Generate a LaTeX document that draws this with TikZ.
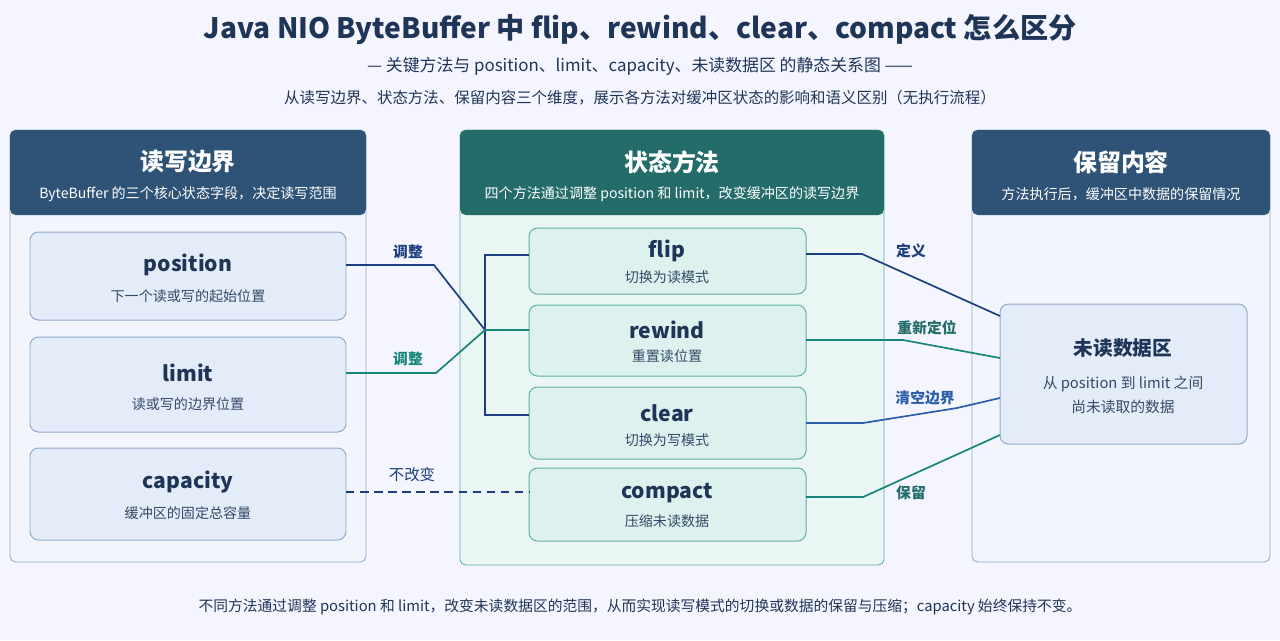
\documentclass[tikz,border=0pt]{standalone}
\usepackage{fontspec}
\setmainfont{Noto Sans CJK SC}
\usepackage{tikz}
\usetikzlibrary{positioning}
\definecolor{navy}{HTML}{1F3557}
\definecolor{headblue}{HTML}{2F5277}
\definecolor{headteal}{HTML}{236C6A}
\definecolor{linenavy}{HTML}{1D3F7F}
\definecolor{lineteal}{HTML}{17857A}
\definecolor{lineblue}{HTML}{2B5EAA}
\definecolor{bgblue}{HTML}{F2F6FC}
\definecolor{bgteal}{HTML}{E9F6F3}
\definecolor{boxblue}{HTML}{E3ECF8}
\definecolor{boxteal}{HTML}{DDF2EE}
\definecolor{edgeblue}{HTML}{8FA9CC}
\definecolor{edgeteal}{HTML}{5FAFA2}

\begin{document}
\begin{tikzpicture}[x=0.025cm, y=-0.025cm,
    panel/.style={draw=#1, line width=0.6pt, rounded corners=4pt},
    head/.style={fill=#1, rounded corners=4pt},
    item/.style={draw=#1, line width=0.7pt, rounded corners=6pt},
    fieldname/.style={font=\bfseries\fontsize{15}{18}\selectfont, text=navy},
    desc/.style={font=\fontsize{10}{12}\selectfont, text=navy!90},
    lbl/.style={font=\bfseries\fontsize{10.5}{12}\selectfont, text=#1},
    link/.style={line width=1.2pt, draw=#1},
]
    \fill[white!96!blue] (0,0) rectangle (1280,640);
    % Titles
    \node[font=\bfseries\fontsize{20}{24}\selectfont, text=navy] (title) at (640,30) {Java NIO ByteBuffer 中 flip、rewind、clear、compact 怎么区分};
    \node[font=\fontsize{12}{14}\selectfont, text=navy] (sub) at (640,66) {— 关键方法与 position、limit、capacity、未读数据区 的静态关系图 ——};
    \node[font=\fontsize{11}{13}\selectfont, text=navy] (sub2) at (640,98) {从读写边界、状态方法、保留内容三个维度，展示各方法对缓冲区状态的影响和语义区别（无执行流程）};

    % Panels
    \draw[panel=edgeblue, fill=bgblue] (10,130) rectangle (366,562);
    \fill[head=headblue] (10,130) rectangle (366,215);
    \draw[panel=edgeteal, fill=bgteal] (460,130) rectangle (884,565);
    \fill[head=headteal] (460,130) rectangle (884,215);
    \draw[panel=edgeblue, fill=bgblue] (972,130) rectangle (1270,562);
    \fill[head=headblue] (972,130) rectangle (1270,215);

    \node[font=\bfseries\fontsize{17}{20}\selectfont, text=white] (lt) at (188,162) {读写边界};
    \node[desc, text=white] (ls) at (188,194) {ByteBuffer 的三个核心状态字段，决定读写范围};
    \node[font=\bfseries\fontsize{17}{20}\selectfont, text=white] (mt) at (672,162) {状态方法};
    \node[desc, text=white] (ms) at (672,194) {四个方法通过调整 position 和 limit，改变缓冲区的读写边界};
    \node[font=\bfseries\fontsize{17}{20}\selectfont, text=white] (rt) at (1121,162) {保留内容};
    \node[desc, text=white] (rs) at (1121,194) {方法执行后，缓冲区中数据的保留情况};

    % Left items
    \draw[item=edgeblue, fill=boxblue] (30,232) rectangle (346,320);
    \node[fieldname] (position) at (188,265) {position};
    \node[desc] at (188,296) {下一个读或写的起始位置};
    \draw[item=edgeblue, fill=boxblue] (30,337) rectangle (346,432);
    \node[fieldname] (limit) at (188,373) {limit};
    \node[desc] at (188,404) {读或写的边界位置};
    \draw[item=edgeblue, fill=boxblue] (30,448) rectangle (346,540);
    \node[fieldname] (capacity) at (188,482) {capacity};
    \node[desc] at (188,513) {缓冲区的固定总容量};

    % Middle items
    \draw[item=edgeteal, fill=boxteal] (529,228) rectangle (806,294);
    \node[fieldname] (flip) at (667,251) {flip};
    \node[desc] at (667,277) {切换为读模式};
    \draw[item=edgeteal, fill=boxteal] (529,305) rectangle (806,376);
    \node[fieldname] (rewind) at (667,330) {rewind};
    \node[desc] at (667,356) {重置读位置};
    \draw[item=edgeteal, fill=boxteal] (529,387) rectangle (806,459);
    \node[fieldname] (clear) at (667,413) {clear};
    \node[desc] at (667,440) {切换为写模式};
    \draw[item=edgeteal, fill=boxteal] (529,468) rectangle (806,541);
    \node[fieldname] (compact) at (667,493) {compact};
    \node[desc] at (667,521) {压缩未读数据};

    % Right item
    \draw[item=edgeblue, fill=boxblue] (1000,304) rectangle (1247,444);
    \node[fieldname, font=\bfseries\fontsize{14}{17}\selectfont] (unread) at (1123,348) {未读数据区};
    \node[desc, align=center, font=\fontsize{10.5}{17}\selectfont] (unreaddesc) at (1123,395) {从 position 到 limit 之间\\尚未读取的数据};

    % Connectors left
    \coordinate (hub) at (485,330);
    \draw[link=linenavy] (346,265) -- (434,265) -- (hub);
    \draw[link=linenavy] (529,255) -- (485,255) -- (485,415) -- (529,415);
    \draw[link=lineteal] (346,373) -- (436,373) -- (hub) -- (529,330);
    \draw[link=linenavy, dash pattern=on 6pt off 4pt, line width=1pt] (346,492) -- (529,492);
    \node[lbl=linenavy] at (408,252) {调整};
    \node[lbl=lineteal] at (408,359) {调整};
    \node[lbl=linenavy, font=\fontsize{11}{13}\selectfont] at (412,475) {不改变};

    % Connectors right
    \draw[link=linenavy] (806,254) -- (862,254) -- (1000,316);
    \draw[link=lineteal] (806,340) -- (903,340) -- (1000,358);
    \draw[link=lineblue] (806,423) -- (863,423) -- (957,408) -- (1000,398);
    \draw[link=lineteal] (806,497) -- (863,497) -- (1000,435);
    \node[lbl=linenavy] at (911,251) {定义};
    \node[lbl=headteal] at (927,328) {重新定位};
    \node[lbl=lineblue] at (925,398) {清空边界};
    \node[lbl=headteal] at (911,493) {保留};

    % Footer
    \node[font=\fontsize{10.5}{13}\selectfont, text=navy] (foot) at (640,607) {不同方法通过调整 position 和 limit，改变未读数据区的范围，从而实现读写模式的切换或数据的保留与压缩；capacity 始终保持不变。};
\end{tikzpicture}
\end{document}
